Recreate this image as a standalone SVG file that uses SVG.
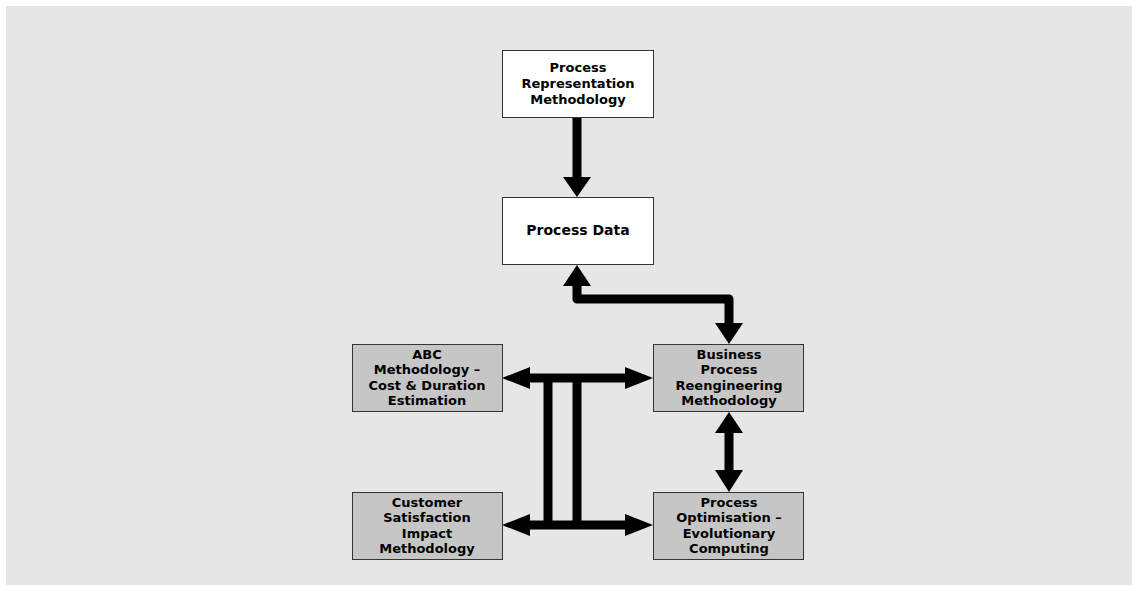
<svg xmlns="http://www.w3.org/2000/svg" width="1138" height="591" viewBox="0 0 1138 591">
  <style>
    .box { stroke: #333333; stroke-width: 1; }
    .white { fill: #ffffff; }
    .grey { fill: #c6c6c6; }
    .label { font-family: "DejaVu Sans", "Liberation Sans", Arial, sans-serif; font-weight: bold; font-size: 13px; text-anchor: middle; fill: #000000; }
    .shaft { fill: none; stroke: #000000; stroke-width: 9; stroke-linejoin: round; }
    .head { fill: #000000; }
  </style>
  <rect x="0" y="0" width="1138" height="591" fill="#ffffff"/>
  <rect x="6" y="6" width="1126" height="579" fill="#e6e6e6"/>

  <g id="connectors">
    <!-- Representation methodology to process data -->
    <path class="shaft" d="M577,118 V178" stroke-linecap="round"/>
    <polygon class="head" points="563,177 591,177 577,197"/>
    <!-- Process data to BPR methodology -->
    <path class="shaft" d="M577,284 V299 H729 V324"/>
    <polygon class="head" points="577,265 563,286 591,286"/>
    <polygon class="head" points="715,323 743,323 729,344"/>
    <!-- ABC and BPR -->
    <path class="shaft" d="M529,378 H626"/>
    <polygon class="head" points="502,378 530,367 530,389"/>
    <polygon class="head" points="653,378 625,367 625,389"/>
    <!-- uprights joining the two horizontal links -->
    <path class="shaft" d="M548,378 V525 M577,378 V525"/>
    <!-- Customer satisfaction and process optimisation -->
    <path class="shaft" d="M529,525 H626"/>
    <polygon class="head" points="502,525 530,514 530,536"/>
    <polygon class="head" points="653,525 625,514 625,536"/>
    <!-- BPR and process optimisation -->
    <path class="shaft" d="M729,432 V471"/>
    <polygon class="head" points="729,412 715,433 743,433"/>
    <polygon class="head" points="729,492 715,470 743,470"/>
  </g>

  <g id="node-representation">
    <rect class="box white" x="502.5" y="50.5" width="151" height="67"/>
    <text class="label" x="578" y="72">Process</text>
    <text class="label" x="578" y="88">Representation</text>
    <text class="label" x="578" y="104">Methodology</text>
  </g>

  <g id="node-process-data">
    <rect class="box white" x="502.5" y="197.5" width="151" height="67"/>
    <text class="label" x="578" y="235" style="font-size:14px">Process Data</text>
  </g>

  <g id="node-abc">
    <rect class="box grey" x="352.5" y="344.5" width="150" height="67"/>
    <text class="label" x="427" y="359">ABC</text>
    <text class="label" x="427" y="374">Methodology –</text>
    <text class="label" x="427" y="390">Cost &amp; Duration</text>
    <text class="label" x="427" y="405">Estimation</text>
  </g>

  <g id="node-bpr">
    <rect class="box grey" x="653.5" y="344.5" width="150" height="67"/>
    <text class="label" x="729" y="359">Business</text>
    <text class="label" x="729" y="374">Process</text>
    <text class="label" x="729" y="390">Reengineering</text>
    <text class="label" x="729" y="405">Methodology</text>
  </g>

  <g id="node-customer">
    <rect class="box grey" x="352.5" y="492.5" width="150" height="67"/>
    <text class="label" x="427" y="507">Customer</text>
    <text class="label" x="427" y="522">Satisfaction</text>
    <text class="label" x="427" y="538">Impact</text>
    <text class="label" x="427" y="553">Methodology</text>
  </g>

  <g id="node-optimisation">
    <rect class="box grey" x="653.5" y="492.5" width="150" height="67"/>
    <text class="label" x="729" y="507">Process</text>
    <text class="label" x="729" y="522">Optimisation –</text>
    <text class="label" x="729" y="538">Evolutionary</text>
    <text class="label" x="729" y="553">Computing</text>
  </g>
</svg>
